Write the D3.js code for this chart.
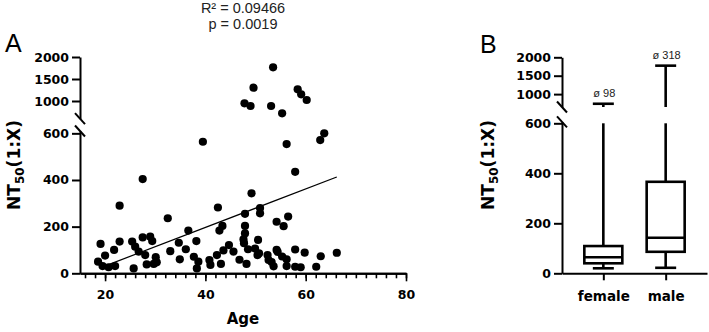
<!DOCTYPE html>
<html><head><meta charset="utf-8">
<script src="https://cdn.jsdelivr.net/npm/d3@7"></script>
<style>body{margin:0;background:#fff}</style>
</head><body><svg id="c" width="709" height="332"></svg>
<script>
// ---- Panel A data (age, NT50) ----
const ages = [53.5,49.6,47.8,49.0,53.1,55.3,58.4,59.1,60.2,
  63.7,62.9,56.2,39.5,57.9,27.5,22.9,49.2,42.5,50.9,47.9,50.9,32.5,56.5,54.2,55.6,47.9,43.4,42.8,36.6,47.9,47.6,50.5,38.2,47.7,
  19.1,22.9,25.4,27.5,29.0,29.4,21.8,26.0,26.7,20.0,18.6,19.5,20.7,22.0,25.7,28.0,28.3,29.7,30.1,30.3,33.0,34.7,34.9,36.1,37.7,38.6,38.3,40.8,41.0,42.3,43.1,43.6,44.7,45.6,46.8,48.2,48.5,49.9,50.7,50.4,52.4,52.6,53.2,53.6,54.2,54.4,55.3,56.2,56.2,57.9,57.9,59.0,59.8,62.1,63.0,66.2];
const nt50 = [1766,1302,948,886,886,720,1266,1152,1023,
  600,571,554,564,435,404,290,343,282,280,255,257,236,243,221,202,203,203,183,183,171,145,143,138,129,
  126,136,136,154,157,138,100,114,93,76,50,31,26,31,21,78,38,40,69,47,95,131,60,103,71,50,21,57,36,78,40,98,121,93,58,40,103,106,86,78,78,57,48,30,100,92,72,60,31,102,28,26,89,28,73,88];
const fitAge = [20.3, 66.2];
const fitNT = [34, 413];
const statLines = ["R² = 0.09466", "p = 0.0019"];
const xTicks = [20, 40, 60, 80];
const yTicksLow = [0, 200, 400, 600];
const yTicksHigh = [1000, 1500, 2000];

// ---- Panel B data ----
const groups = ["female", "male"];
const boxMin = [20, 22];
const boxQ1 = [40, 86];
const boxMed = [64, 142];
const boxQ3 = [109, 366];
const boxMax = [738, 1773];
const meanLabels = ["ø 98", "ø 318"];

const svg = d3.select("#c");
const tickFont = "'DejaVu Sans', sans-serif";
const fmt = d3.format("d");

function broken(lowD, lowR, upD, upR) {
  const lo = d3.scaleLinear().domain(lowD).range(lowR);
  const up = d3.scaleLinear().domain(upD).range(upR);
  const f = v => v <= lowD[1] ? lo(v) : up(v);
  f.lo = lo; f.up = up; f.lowMax = lowD[1]; f.upMin = upD[0];
  return f;
}

function drawYAxis(g, x, ys, labelX, labelY) {
  const ax = g.append("g").attr("transform", `translate(${x},0)`);
  const axL = d3.axisLeft(ys.lo).tickValues(yTicksLow).tickFormat(fmt).tickSize(8).tickPadding(3).tickSizeOuter(0);
  const axU = d3.axisLeft(ys.up).tickValues(yTicksHigh).tickFormat(fmt).tickSize(8).tickPadding(3).tickSizeOuter(0);
  const gl = ax.append("g").call(axL);
  const gu = ax.append("g").call(axU);
  [gl, gu].forEach(a => {
    a.selectAll("path.domain").attr("stroke", "#000").attr("stroke-width", 2);
    a.selectAll(".tick line").attr("stroke", "#000").attr("stroke-width", 2);
    a.selectAll(".tick text").attr("font-family", tickFont).attr("font-weight", "bold")
      .attr("font-size", "12.5px").attr("fill", "#000");
  });
  const yLowTop = ys.lo.range()[1], yUpBot = ys.up.range()[0];
  [yLowTop, yUpBot].forEach(yy => {
    ax.append("line").attr("x1", -5).attr("y1", yy - 5.5).attr("x2", 5).attr("y2", yy + 5.5)
      .attr("stroke", "#000").attr("stroke-width", 2);
  });
  const t = g.append("text").attr("transform", `translate(${labelX},${labelY}) rotate(-90)`)
    .attr("text-anchor", "middle").attr("font-family", tickFont).attr("font-weight", "bold")
    .attr("font-size", "17px").attr("fill", "#000");
  t.append("tspan").text("NT");
  t.append("tspan").text("50").attr("font-size", "12px").attr("dy", 4);
  t.append("tspan").text("(1:X)").attr("dy", -4);
}

// ===== Panel A =====
const gA = svg.append("g");
const xA = d3.scaleLinear().domain([15, 80]).range([80, 406]);
const yA = broken([0, 610], [273.3, 131], [600, 2000], [118.6, 57]);

const xAxisA = gA.append("g").attr("transform", "translate(0,273.3)");
xAxisA.call(d3.axisBottom(xA).tickValues(d3.range(16, 81, 2)).tickSize(5).tickFormat("").tickSizeOuter(0));
xAxisA.append("g").call(d3.axisBottom(xA).tickValues(xTicks).tickSize(8).tickPadding(9).tickSizeOuter(0));
xAxisA.selectAll("path.domain").attr("stroke", "#000").attr("stroke-width", 2);
xAxisA.selectAll(".tick line").attr("stroke", "#000").attr("stroke-width", 1.6);
xAxisA.selectAll(".tick text").attr("font-family", tickFont).attr("font-weight", "bold")
  .attr("font-size", "12.5px").attr("fill", "#000");

drawYAxis(gA, 80, yA, 20, 165);

gA.append("g").selectAll("circle").data(ages.map((a, i) => [a, nt50[i]])).join("circle")
  .attr("cx", d => xA(d[0])).attr("cy", d => yA(d[1])).attr("r", 4.1).attr("fill", "#000");

gA.append("line").attr("x1", xA(fitAge[0])).attr("y1", yA(fitNT[0]))
  .attr("x2", xA(fitAge[1])).attr("y2", yA(fitNT[1])).attr("stroke", "#000").attr("stroke-width", 1.2);

gA.append("text").attr("x", 243).attr("y", 324).attr("text-anchor", "middle")
  .attr("font-family", tickFont).attr("font-weight", "bold").attr("font-size", "15px").text("Age");
statLines.forEach((s, i) => gA.append("text").attr("x", 243).attr("y", 12.5 + i * 16.5)
  .attr("text-anchor", "middle").attr("font-family", "'Liberation Sans', Arial, sans-serif")
  .attr("font-size", "14.5px").attr("fill", "#222").text(s));
gA.append("text").attr("x", 5).attr("y", 52).attr("font-family", "'Liberation Sans', Arial, sans-serif")
  .attr("font-size", "25px").text("A");

// ===== Panel B =====
const gB = svg.append("g");
const xB = d3.scalePoint().domain(groups).range([562, 707]).padding(0.663);
const yB = broken([0, 606], [273.3, 121.8], [650, 2000], [107, 57.3]);

const xAxisB = gB.append("g").attr("transform", "translate(0,273.3)");
xAxisB.call(d3.axisBottom(xB).tickSize(7).tickPadding(11).tickSizeOuter(0));
xAxisB.selectAll("path.domain").attr("stroke", "#000").attr("stroke-width", 2);
xAxisB.selectAll(".tick line").attr("stroke", "#000").attr("stroke-width", 2);
xAxisB.selectAll(".tick text").attr("font-family", tickFont).attr("font-weight", "bold")
  .attr("font-size", "13.5px").attr("fill", "#000");

drawYAxis(gB, 562, yB, 494, 165);

const bw = 38, cw = 21;
groups.forEach((g, i) => {
  const cx = xB(g);
  const gg = gB.append("g").attr("stroke", "#000").attr("stroke-width", 2.6).attr("fill", "none");
  const seg = (a, b) => {
    if (a < yB.lowMax) gg.append("line").attr("x1", cx).attr("x2", cx)
      .attr("y1", yB.lo(a)).attr("y2", yB.lo(Math.min(b, 600)));
    if (b > yB.upMin) gg.append("line").attr("x1", cx).attr("x2", cx)
      .attr("y1", yB.up(Math.max(a, yB.upMin))).attr("y2", yB.up(b));
  };
  seg(boxQ3[i], boxMax[i]);
  seg(boxMin[i], boxQ1[i]);
  gg.append("rect").attr("x", cx - bw / 2).attr("width", bw)
    .attr("y", yB(boxQ3[i])).attr("height", yB(boxQ1[i]) - yB(boxQ3[i])).attr("fill", "#fff");
  gg.append("line").attr("x1", cx - bw / 2).attr("x2", cx + bw / 2).attr("y1", yB(boxMed[i])).attr("y2", yB(boxMed[i]));
  [boxMin[i], boxMax[i]].forEach(v => gg.append("line").attr("x1", cx - cw / 2).attr("x2", cx + cw / 2)
    .attr("y1", yB(v)).attr("y2", yB(v)));
  gB.append("text").attr("x", cx + 1).attr("y", yB(boxMax[i]) - 7).attr("text-anchor", "middle")
    .attr("font-family", "'Liberation Sans', Arial, sans-serif").attr("font-size", "11px")
    .attr("fill", "#222").text(meanLabels[i]);
});
gB.append("text").attr("x", 480).attr("y", 53).attr("font-family", "'Liberation Sans', Arial, sans-serif")
  .attr("font-size", "25px").text("B");
</script></body></html>
